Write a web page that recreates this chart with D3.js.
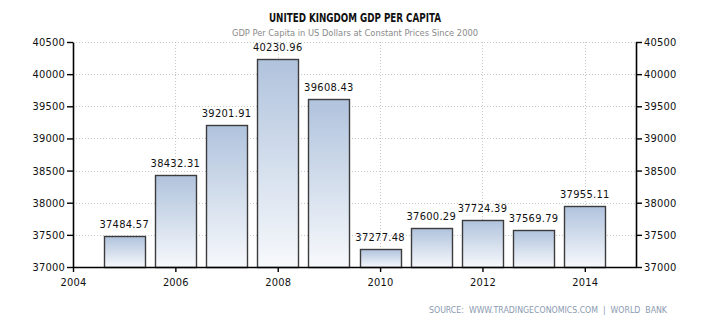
<!DOCTYPE html>
<html>
<head>
<meta charset="utf-8">
<script src="https://cdn.jsdelivr.net/npm/d3@7"></script>
<style>
  body { margin: 0; background: #fff; }
  svg { display: block; font-family: "DejaVu Sans Condensed", "DejaVu Sans", Verdana, sans-serif; }
</style>
</head>
<body>
<svg id="chart" width="710" height="325"></svg>
<script>
// UK GDP per capita, constant 2000 US dollars
const years = [2005, 2006, 2007, 2008, 2009, 2010, 2011, 2012, 2013, 2014];
const values = [37484.57, 38432.31, 39201.91, 40230.96, 39608.43, 37277.48, 37600.29, 37724.39, 37569.79, 37955.11];
const xTicks = [2004, 2006, 2008, 2010, 2012, 2014];
const yTicks = [37000, 37500, 38000, 38500, 39000, 39500, 40000, 40500];

const svg = d3.select("#chart");
const plotLeft = 73, plotRight = 636, plotTop = 42, plotBottom = 267;
const font = "DejaVu Sans Condensed, DejaVu Sans, sans-serif";

const x = d3.scaleLinear().domain([2004, 2015]).range([plotLeft, plotRight]);
const y = d3.scaleLinear().domain([37000, 40500]).range([plotBottom, plotTop]);
const barW = 41;

// gradient fill for the bars
const grad = svg.append("defs").append("linearGradient")
  .attr("id", "barFill").attr("x1", 0).attr("y1", 0).attr("x2", 0).attr("y2", 1);
grad.append("stop").attr("offset", "0%").attr("stop-color", "#b0c3dd");
grad.append("stop").attr("offset", "100%").attr("stop-color", "#f7f9fc");

// dotted grid
const grid = svg.append("g").attr("stroke", "#c8c8c8").attr("stroke-dasharray", "1,2");
grid.selectAll("line.h").data(yTicks.slice(1)).join("line")
  .attr("x1", plotLeft).attr("x2", plotRight)
  .attr("y1", d => Math.round(y(d)) + 0.5).attr("y2", d => Math.round(y(d)) + 0.5);
grid.selectAll("line.v").data(xTicks.slice(1)).join("line")
  .attr("y1", plotTop).attr("y2", plotBottom)
  .attr("x1", d => Math.round(x(d)) + 0.5).attr("x2", d => Math.round(x(d)) + 0.5);

// bars
svg.append("g").selectAll("rect").data(years).join("rect")
  .attr("x", (d) => Math.round(x(d) - barW / 2) + 0.5)
  .attr("width", barW)
  .attr("y", (d, i) => Math.round(y(values[i])) + 0.5)
  .attr("height", (d, i) => Math.round(plotBottom) - Math.round(y(values[i])))
  .attr("fill", "url(#barFill)")
  .attr("stroke", "#3c3c3c").attr("stroke-width", 1.4);

// value labels
svg.append("g").selectAll("text").data(years).join("text")
  .attr("x", d => x(d))
  .attr("y", (d, i) => y(values[i]) - 8)
  .attr("text-anchor", "middle")
  .attr("font-size", 11).attr("fill", "#111").attr("letter-spacing", 0.3)
  .text((d, i) => values[i].toFixed(2));

// axes
const styleAxis = g => {
  g.selectAll("path.domain").attr("stroke", "#000").attr("stroke-width", 1.6);
  g.selectAll(".tick line").attr("stroke", "#000").attr("stroke-width", 1.4);
  g.selectAll(".tick text").attr("font-size", 11).attr("fill", "#111")
    .attr("font-family", font).attr("letter-spacing", 0.2);
};
svg.append("g").attr("transform", `translate(${plotLeft},0)`)
  .call(d3.axisLeft(y).tickValues(yTicks).tickFormat(d3.format("d")).tickSize(6).tickSizeOuter(0).tickPadding(2))
  .call(styleAxis);
svg.append("g").attr("transform", `translate(${plotRight},0)`)
  .call(d3.axisRight(y).tickValues(yTicks).tickFormat(d3.format("d")).tickSize(6).tickSizeOuter(0).tickPadding(2))
  .call(styleAxis);
svg.append("g").attr("transform", `translate(0,${plotBottom})`)
  .call(d3.axisBottom(x).tickValues(xTicks).tickFormat(d3.format("d")).tickSize(5).tickSizeOuter(0).tickPadding(6))
  .call(styleAxis);

// titles
svg.append("text").attr("x", 355).attr("y", 22).attr("text-anchor", "middle")
  .attr("font-size", 11.5).attr("font-weight", "bold").attr("fill", "#111")
  .attr("textLength", 172).attr("lengthAdjust", "spacingAndGlyphs")
  .text("UNITED KINGDOM GDP PER CAPITA");
svg.append("text").attr("x", 355).attr("y", 36).attr("text-anchor", "middle")
  .attr("font-size", 9.5).attr("fill", "#8a8a8a")
  .attr("textLength", 246).attr("lengthAdjust", "spacingAndGlyphs")
  .text("GDP Per Capita in US Dollars at Constant Prices Since 2000");

// source note
svg.append("text").attr("x", 667).attr("y", 313).attr("text-anchor", "end")
  .attr("font-size", 9).attr("fill", "#8a9ab0").style("white-space", "pre")
  .attr("textLength", 238).attr("lengthAdjust", "spacingAndGlyphs")
  .text("SOURCE:  WWW.TRADINGECONOMICS.COM  |  WORLD  BANK");
</script>
</body>
</html>
